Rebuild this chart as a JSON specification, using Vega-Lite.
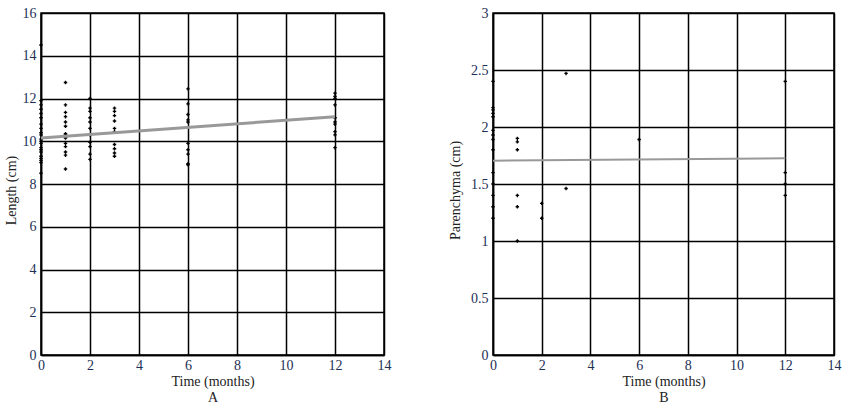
{
  "$schema": "https://vega.github.io/schema/vega-lite/v6.json",
  "padding": {"left": 3, "top": 5, "right": 0, "bottom": 0},
  "background": "white",
  "bounds": "flush",
  "spacing": 109,
  "config": {
    "font": "Liberation Serif",
    "view": {"stroke": "black", "strokeWidth": 1.5},
    "axis": {
      "domainColor": "black", "domainWidth": 1.5,
      "gridColor": "black", "gridWidth": 1.5, "gridOpacity": 1,
      "ticks": false, "labelFont": "Liberation Serif", "labelFontSize": 14,
      "labelColor": "#1c2f55", "titleFont": "Liberation Serif", "titleFontSize": 14,
      "titleFontWeight": "normal", "titleColor": "#222222", "labelFlush": false
    }
  },
  "datasets": {
    "length": [
      {"t":0,"v":14.5},{"t":0,"v":11.9},{"t":0,"v":11.7},{"t":0,"v":11.5},{"t":0,"v":11.3},{"t":0,"v":11.1},{"t":0,"v":10.8},{"t":0,"v":10.6},{"t":0,"v":10.4},{"t":0,"v":10.3},{"t":0,"v":10.1},{"t":0,"v":10.0},{"t":0,"v":9.9},{"t":0,"v":9.7},{"t":0,"v":9.6},{"t":0,"v":9.5},{"t":0,"v":9.3},{"t":0,"v":9.2},{"t":0,"v":9.1},{"t":0,"v":9.0},{"t":0,"v":8.5},
      {"t":1,"v":12.75},{"t":1,"v":11.7},{"t":1,"v":11.35},{"t":1,"v":11.15},{"t":1,"v":10.9},{"t":1,"v":10.7},{"t":1,"v":10.35},{"t":1,"v":10.3},{"t":1,"v":10.2},{"t":1,"v":10.15},{"t":1,"v":9.9},{"t":1,"v":9.75},{"t":1,"v":9.5},{"t":1,"v":9.35},{"t":1,"v":8.7},
      {"t":2,"v":12.0},{"t":2,"v":11.55},{"t":2,"v":11.4},{"t":2,"v":11.1},{"t":2,"v":10.9},{"t":2,"v":10.6},{"t":2,"v":10.3},{"t":2,"v":9.95},{"t":2,"v":9.75},{"t":2,"v":9.4},{"t":2,"v":9.15},
      {"t":3,"v":11.55},{"t":3,"v":11.4},{"t":3,"v":11.2},{"t":3,"v":10.95},{"t":3,"v":10.6},{"t":3,"v":10.45},{"t":3,"v":9.85},{"t":3,"v":9.65},{"t":3,"v":9.45},{"t":3,"v":9.3},
      {"t":6,"v":12.45},{"t":6,"v":11.75},{"t":6,"v":11.25},{"t":6,"v":11.0},{"t":6,"v":10.9},{"t":6,"v":9.9},{"t":6,"v":9.6},{"t":6,"v":9.4},{"t":6,"v":8.95},{"t":6,"v":8.9},
      {"t":12,"v":12.25},{"t":12,"v":12.1},{"t":12,"v":12.0},{"t":12,"v":11.7},{"t":12,"v":11.1},{"t":12,"v":10.9},{"t":12,"v":10.8},{"t":12,"v":10.45},{"t":12,"v":10.3},{"t":12,"v":9.7}
    ],
    "lengthFit": [{"t":0,"v":10.15},{"t":12,"v":11.15}],
    "paren": [
      {"t":0,"v":2.4},{"t":0,"v":2.17},{"t":0,"v":2.15},{"t":0,"v":2.12},{"t":0,"v":2.09},{"t":0,"v":1.97},{"t":0,"v":1.93},{"t":0,"v":1.89},{"t":0,"v":1.8},{"t":0,"v":1.6},{"t":0,"v":1.5},{"t":0,"v":1.4},{"t":0,"v":1.3},{"t":0,"v":1.2},
      {"t":1,"v":1.9},{"t":1,"v":1.87},{"t":1,"v":1.8},{"t":1,"v":1.4},{"t":1,"v":1.3},{"t":1,"v":1.0},
      {"t":2,"v":1.33},{"t":2,"v":1.2},
      {"t":3,"v":2.47},{"t":3,"v":1.46},
      {"t":6,"v":1.89},
      {"t":12,"v":2.4},{"t":12,"v":1.6},{"t":12,"v":1.5},{"t":12,"v":1.4}
    ],
    "parenFit": [{"t":0,"v":1.705},{"t":12,"v":1.725}]
  },
  "hconcat": [
    {
      "width": 343, "height": 342,
      "layer": [
        {
          "data": {"name": "length"},
          "mark": {"type": "point", "shape": "cross", "filled": true, "color": "black", "size": 12, "opacity": 1},
          "encoding": {
            "x": {"field": "t", "type": "quantitative", "scale": {"domain": [0, 14], "nice": false},
                  "axis": {"values": [0,2,4,6,8,10,12,14], "title": ["Time (months)", "A"], "titleLineHeight": 16, "labelPadding": 3, "titlePadding": 2}},
            "y": {"field": "v", "type": "quantitative", "scale": {"domain": [0, 16], "nice": false},
                  "axis": {"values": [0,2,4,6,8,10,12,14,16], "title": "Length (cm)", "labelPadding": 5, "titlePadding": 4, "titleY": 177}}
          }
        },
        {
          "data": {"name": "lengthFit"},
          "mark": {"type": "line", "color": "#999999", "strokeWidth": 3},
          "encoding": {
            "x": {"field": "t", "type": "quantitative"},
            "y": {"field": "v", "type": "quantitative"}
          }
        }
      ]
    },
    {
      "width": 341, "height": 342,
      "layer": [
        {
          "data": {"name": "paren"},
          "mark": {"type": "point", "shape": "cross", "filled": true, "color": "black", "size": 12, "opacity": 1},
          "encoding": {
            "x": {"field": "t", "type": "quantitative", "scale": {"domain": [0, 14], "nice": false},
                  "axis": {"values": [0,2,4,6,8,10,12,14], "title": ["Time (months)", "B"], "titleLineHeight": 16, "labelPadding": 3, "titlePadding": 2}},
            "y": {"field": "v", "type": "quantitative", "scale": {"domain": [0, 3], "nice": false},
                  "axis": {"values": [0,0.5,1,1.5,2,2.5,3], "format": "~g", "title": "Parenchyma (cm)", "labelPadding": 5, "titlePadding": 8, "titleY": 177}}
          }
        },
        {
          "data": {"name": "parenFit"},
          "mark": {"type": "line", "color": "#999999", "strokeWidth": 2},
          "encoding": {
            "x": {"field": "t", "type": "quantitative"},
            "y": {"field": "v", "type": "quantitative"}
          }
        }
      ]
    }
  ]
}
